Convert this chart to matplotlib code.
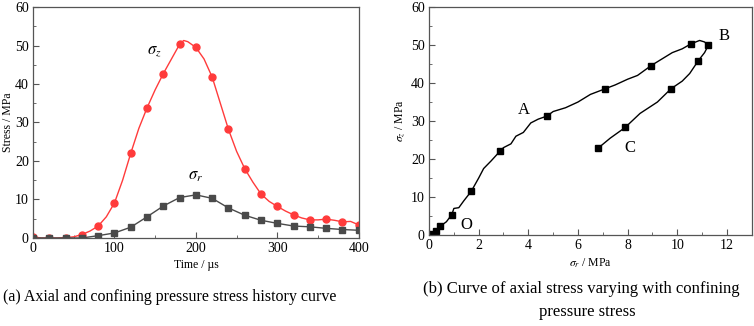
import numpy as np
import matplotlib
matplotlib.use('Agg')
import matplotlib.pyplot as plt
from matplotlib.ticker import MultipleLocator

plt.rcParams['font.family'] = ['Liberation Serif', 'DejaVu Serif']
plt.rcParams['mathtext.fontset'] = 'stix'

# ---- (a) stress history, curves read every 10 us ----
t_line = [0, 10, 20, 30, 40, 50, 60, 70, 80, 90, 100, 110, 120, 130, 140, 150, 160, 170, 180, 185,
          190, 200, 210, 220, 230, 240, 250, 260, 270, 280, 290, 300, 310, 320, 330, 340, 350,
          360, 370, 380, 390, 400]
sz_line = [0.3, 0.0, 0.0, 0.0, 0.1, 0.3, 0.9, 1.8, 3.1, 5.5, 9.1, 15.0, 22.0, 28.5, 33.8, 38.5, 42.7,
           46.5, 50.3, 51.3, 51.0, 49.5, 46.5, 41.8, 35.0, 28.2, 22.5, 18.0, 14.5, 11.4, 9.5, 8.2,
           7.0, 6.0, 5.2, 4.7, 4.7, 4.9, 4.6, 4.2, 4.3, 3.4]

t_mark = [0, 20, 40, 60, 80, 100, 120, 140, 160, 180, 200, 220, 240, 260, 280, 300, 320, 340, 360, 380, 400]
sz_mark = [0.3, 0.0, 0.1, 0.9, 3.1, 9.1, 22.0, 33.8, 42.7, 50.3, 49.5, 41.8, 28.2, 18.0, 11.4, 8.2,
           6.0, 4.7, 4.9, 4.2, 3.4]
sr_mark = [0.0, 0.0, 0.0, 0.0, 0.6, 1.3, 2.8, 5.5, 8.3, 10.5, 11.2, 10.3, 7.8, 5.9, 4.6, 3.8,
           3.1, 2.9, 2.5, 2.2, 2.0]

# ---- (b) sigma_z vs sigma_r ----
sr_path = [0.0, 0.1, 0.3, 0.45, 0.7, 0.92, 1.0, 1.2, 1.4, 1.7, 2.0, 2.2, 2.5, 2.85, 3.0, 3.3, 3.5,
           3.8, 4.1, 4.4, 4.75, 5.0, 5.5, 6.0, 6.5, 7.1, 7.5, 8.0, 8.4, 8.95, 9.3, 9.8, 10.2,
           10.55, 10.9, 11.1, 11.25, 11.1, 10.85, 10.5, 10.2, 9.75, 9.2, 8.5, 7.9, 7.3, 6.8]
sz_path = [0.0, 0.3, 1.0, 2.3, 3.5, 5.4, 7.0, 7.2, 9.0, 11.5, 15.0, 17.5, 19.5, 22.0, 23.0, 24.0,
           26.0, 27.0, 29.5, 30.5, 31.3, 32.5, 33.5, 35.0, 37.0, 38.5, 39.5, 41.0, 42.0, 44.6,
           46.0, 48.0, 49.0, 50.3, 51.2, 50.8, 49.9, 48.0, 45.9, 42.5, 40.5, 38.5, 35.0, 32.0,
           28.3, 25.5, 22.8]
sr_pts = [0.05, 0.3, 0.45, 0.92, 1.7, 2.85, 4.75, 7.1, 8.95, 10.55, 11.25, 10.85, 9.75, 7.9, 6.8]
sz_pts = [0.3, 1.0, 2.3, 5.4, 11.5, 22.0, 31.3, 38.5, 44.6, 50.3, 49.9, 45.9, 38.5, 28.3, 22.8]

fig = plt.figure(figsize=(7.54, 3.26), dpi=100)
ax1 = fig.add_axes([0.0438, 0.27, 0.432, 0.7085])
ax2 = fig.add_axes([0.569, 0.279, 0.428, 0.6995])

red = '#ff3b3b'
gray = '#4a4a4a'
ax1.plot(t_line, sz_line, color=red, lw=1.0)
ax1.plot(t_mark, sz_mark, 'o', color=red, ms=5)
ax1.plot(t_mark, sr_mark, '-s', color=gray, lw=1.0, ms=4.5)
ax1.set_xlim(0, 400)
ax1.set_ylim(0, 60)
ax1.xaxis.set_major_locator(MultipleLocator(100))
ax1.xaxis.set_minor_locator(MultipleLocator(50))
ax1.yaxis.set_major_locator(MultipleLocator(10))
ax1.yaxis.set_minor_locator(MultipleLocator(5))
ax1.set_xlabel('Time / µs', fontsize=8.5, labelpad=3)
ax1.set_ylabel('Stress / MPa', fontsize=8.5)
ax1.yaxis.set_label_coords(-0.058, 0.5)
ax1.text(149, 48.5, r'$\sigma_z$', fontsize=12, ha='center', va='center')
ax1.text(200, 16, r'$\sigma_r$', fontsize=12, ha='center', va='center')

ax2.plot(sr_path, sz_path, color='black', lw=1.0)
ax2.plot(sr_pts, sz_pts, 's', color='black', ms=4.5)
ax2.set_xlim(0, 13)
ax2.set_ylim(0, 60)
ax2.xaxis.set_major_locator(MultipleLocator(2))
ax2.xaxis.set_minor_locator(MultipleLocator(1))
ax2.yaxis.set_major_locator(MultipleLocator(10))
ax2.yaxis.set_minor_locator(MultipleLocator(5))
ax2.set_xlabel(r'$\sigma_r$ / MPa', fontsize=8.5, labelpad=3)
ax2.set_ylabel(r'$\sigma_z$ / MPa', fontsize=8.5, labelpad=3)
ax2.text(3.8, 32.9, 'A', fontsize=12, ha='center', va='center')
ax2.text(11.9, 52.4, 'B', fontsize=12, ha='center', va='center')
ax2.text(8.1, 22.9, 'C', fontsize=12, ha='center', va='center')
ax2.text(1.5, 2.6, 'O', fontsize=12, ha='center', va='center')

for ax in (ax1, ax2):
    for s in ax.spines.values():
        s.set_color('#555555')
        s.set_linewidth(0.9)
    ax.tick_params(which='both', direction='in', top=False, right=False, labelsize=10,
                   color='#555555', pad=3)
    ax.tick_params(which='major', length=4)
    ax.tick_params(which='minor', length=2)

fig.text(0.225, 0.089, '(a) Axial and confining pressure stress history curve',
         ha='center', va='center', fontsize=11.5)
fig.text(0.771, 0.113, '(b) Curve of axial stress varying with confining',
         ha='center', va='center', fontsize=12)
fig.text(0.779, 0.043, 'pressure stress', ha='center', va='center', fontsize=12)

fig.savefig('out.png', dpi=100)
